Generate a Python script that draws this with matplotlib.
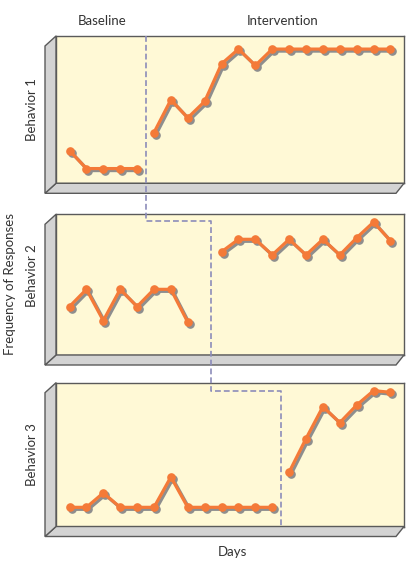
import matplotlib.pyplot as plt
from matplotlib.lines import Line2D
from matplotlib.patches import Polygon
from matplotlib.transforms import ScaledTranslation

plt.rcParams['font.family'] = ['Lato', 'DejaVu Sans']

# Behavior 1 - intervention starts on day 6
b1_base_days = [1, 2, 3, 4, 5]
b1_base = [2.0, 0.9, 0.9, 0.9, 0.9]
b1_int_days = list(range(6, 21))
b1_int = [3.1, 5.1, 4.0, 5.0, 7.3, 8.2, 7.2, 8.2, 8.2, 8.2, 8.2, 8.2, 8.2, 8.2, 8.2]

# Behavior 2 - intervention starts on day 10
b2_base_days = [1, 2, 3, 4, 5, 6, 7, 8]
b2_base = [3.1, 4.2, 2.2, 4.2, 3.1, 4.2, 4.2, 2.1]
b2_int_days = list(range(10, 21))
b2_int = [6.6, 7.4, 7.4, 6.4, 7.4, 6.4, 7.4, 6.4, 7.5, 8.5, 7.3]

# Behavior 3 - intervention starts on day 14
b3_base_days = list(range(1, 14))
b3_base = [1.2, 1.2, 2.1, 1.2, 1.2, 1.2, 3.1, 1.2, 1.2, 1.2, 1.2, 1.2, 1.2]
b3_int_days = list(range(14, 21))
b3_int = [3.4, 5.5, 7.5, 6.5, 7.6, 8.5, 8.4]

phase_change = [5.5, 9.4, 13.5]
behaviors = ['Behavior 1', 'Behavior 2', 'Behavior 3']

W, H = 413, 563
fig = plt.figure(figsize=(W / 100, H / 100), dpi=100)
fig.patch.set_facecolor('white')

yellow = '#fff9d6'
gray = '#d3d3d3'
edge = '#5a5a5a'
orange = '#f47a38'
shadow = '#8e8e8e'
dash_col = '#8c8cba'

# panel positions: (top, bottom) in pixels
panels_px = [(36, 183.3), (214.3, 355), (382.7, 526.5)]
left_px, right_px = 56, 404

series = [
    (b1_base_days, b1_base, b1_int_days, b1_int),
    (b2_base_days, b2_base, b2_int_days, b2_int),
    (b3_base_days, b3_base, b3_int_days, b3_int),
]
label_y = [110, 276, 454.5]

axes = []
for i, (top, bot) in enumerate(panels_px):
    ax = fig.add_axes([left_px / W, 1 - bot / H, (right_px - left_px) / W, (bot - top) / H])
    ax.set_facecolor(yellow)
    ax.set_xlim(0.2, 20.8)
    ax.set_ylim(0, 9)
    ax.set_xticks([])
    ax.set_yticks([])
    for s in ax.spines.values():
        s.set_color(edge)
        s.set_linewidth(1.0)

    shadow_tr = ax.transData + ScaledTranslation(0.02, -0.02, fig.dpi_scale_trans)
    bd, bv, idd, iv = series[i]
    for xs, ys in [(bd, bv), (idd, iv)]:
        ax.plot(xs, ys, color=shadow, lw=2.3, marker='o', ms=5.2, mec=shadow,
                transform=shadow_tr, solid_joinstyle='round', zorder=2)
        ax.plot(xs, ys, color=orange, lw=2.3, marker='o', ms=5.2, mec=orange,
                solid_joinstyle='round', zorder=3)

    # 3D floor and left wall
    x0, x1 = left_px / W, right_px / W
    y0, y1 = 1 - bot / H, 1 - top / H
    dxl, dxr, dy = 11 / W, 8 / W, 10 / H
    floor = Polygon([(x0, y0), (x1, y0), (x1 - dxr, y0 - dy), (x0 - dxl, y0 - dy)],
                    closed=True, facecolor=gray, edgecolor=edge, lw=1.0,
                    transform=fig.transFigure)
    wall = Polygon([(x0, y0), (x0, y1), (x0 - dxl, y1 - dy), (x0 - dxl, y0 - dy)],
                   closed=True, facecolor=gray, edgecolor=edge, lw=1.0,
                   transform=fig.transFigure)
    fig.add_artist(floor)
    fig.add_artist(wall)

    fig.text(32 / W, 1 - label_y[i] / H, behaviors[i], rotation=90, ha='center',
             va='center', fontsize=9.5, color='#333333')
    axes.append(ax)

# stepped phase change line
to_fig = fig.transFigure.inverted()


def fig_xy(ax, x, yfrac):
    xd = ax.transData.transform((x, 0))[0]
    yd = ax.transAxes.transform((0, yfrac))[1]
    return to_fig.transform((xd, yd))


pts = [fig_xy(axes[0], phase_change[0], 1.0),
       fig_xy(axes[1], phase_change[0], 0.952),
       fig_xy(axes[1], phase_change[1], 0.952),
       fig_xy(axes[2], phase_change[1], 0.945),
       fig_xy(axes[2], phase_change[2], 0.945),
       fig_xy(axes[2], phase_change[2], 0.0)]
fig.add_artist(Line2D([p[0] for p in pts], [p[1] for p in pts], color=dash_col,
                      lw=1.2, dashes=(3.5, 1.8), transform=fig.transFigure, zorder=5))

fig.text(102 / W, 1 - 21 / H, 'Baseline', ha='center', va='center', fontsize=9.5, color='#333333')
fig.text(283 / W, 1 - 21 / H, 'Intervention', ha='center', va='center', fontsize=9.5, color='#333333')
fig.text(232 / W, 1 - 552 / H, 'Days', ha='center', va='center', fontsize=9.5, color='#333333')
fig.text(10 / W, 1 - 284 / H, 'Frequency of Responses', rotation=90, ha='center',
         va='center', fontsize=9.5, color='#333333')

fig.savefig('out.png', dpi=100)
